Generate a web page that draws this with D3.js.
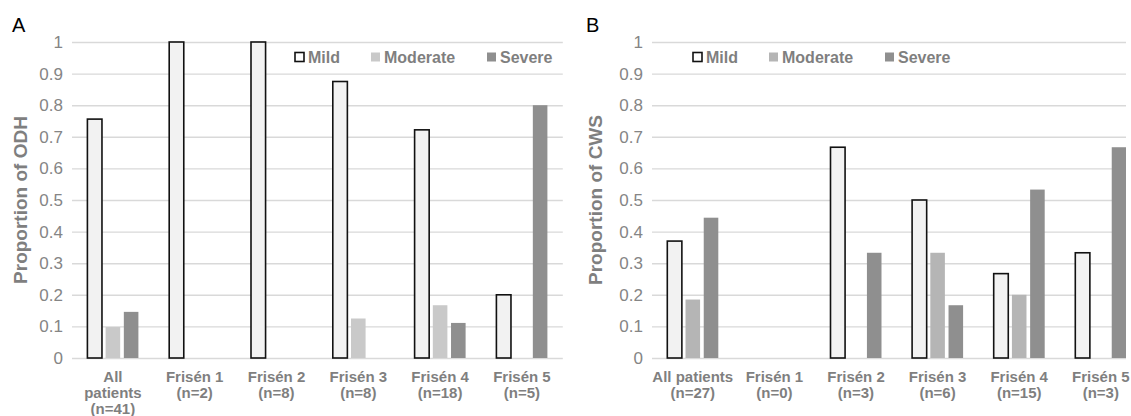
<!DOCTYPE html>
<html>
<head>
<meta charset="utf-8">
<script src="https://cdn.jsdelivr.net/npm/d3@7"></script>
<style>
  body { margin: 0; background: #fff; }
  svg { display: block; font-family: "Liberation Sans", Arial, sans-serif; }
</style>
</head>
<body>
<svg id="chart" width="1131" height="416"></svg>
<script>
// data
const series = ["Mild", "Moderate", "Severe"];
const yTicks = [0, 0.1, 0.2, 0.3, 0.4, 0.5, 0.6, 0.7, 0.8, 0.9, 1];

const odhCategories = ["All\npatients\n(n=41)", "Frisén 1\n(n=2)", "Frisén 2\n(n=8)", "Frisén 3\n(n=8)", "Frisén 4\n(n=18)", "Frisén 5\n(n=5)"];
const odhMild = [0.756, 1, 1, 0.875, 0.722, 0.2];
const odhModerate = [0.098, 0, 0, 0.125, 0.167, 0];
const odhSevere = [0.146, 0, 0, 0, 0.111, 0.8];

const cwsCategories = ["All patients\n(n=27)", "Frisén 1\n(n=0)", "Frisén 2\n(n=3)", "Frisén 3\n(n=6)", "Frisén 4\n(n=15)", "Frisén 5\n(n=3)"];
const cwsMild = [0.37, 0, 0.667, 0.5, 0.267, 0.333];
const cwsModerate = [0.185, 0, 0, 0.333, 0.2, 0];
const cwsSevere = [0.444, 0, 0.333, 0.167, 0.533, 0.667];

const svg = d3.select('#chart');
const textGrey = '#7f7f7f';

function drawPanel(p) {
    const g = svg.append('g');

    // clip so the right panel is cut like the original
    const clipId = 'clip-' + p.letter;
    svg.append('clipPath').attr('id', clipId)
        .append('rect')
        .attr('x', p.left - 10).attr('y', 0)
        .attr('width', p.clipRight - p.left + 10).attr('height', 416);

    const x0 = d3.scaleBand()
        .domain(p.categories)
        .range([p.left, p.left + p.step * p.categories.length]);

    const groupW = 51;
    const x1 = d3.scaleBand()
        .domain(series)
        .range([(p.step - groupW) / 2, (p.step + groupW) / 2])
        .paddingInner(0.2);

    const y = d3.scaleLinear().domain([0, 1]).range([358, 42]);

    // gridlines + tick labels
    const yAxis = d3.axisLeft(y)
        .tickValues(yTicks)
        .tickFormat(d3.format('~g'))
        .tickSize(-(Math.min(x0.range()[1], p.clipRight) - p.left))
        .tickPadding(9);

    const ax = g.append('g')
        .attr('transform', `translate(${p.left},0)`)
        .call(yAxis);
    ax.select('.domain').remove();
    ax.selectAll('.tick line')
        .attr('stroke', '#d9d9d9')
        .attr('stroke-width', 1.4);
    ax.selectAll('.tick text')
        .attr('fill', '#858585')
        .attr('font-size', 17);

    // bars
    const colors = { Mild: '#f2f2f2', Moderate: p.moderateColor, Severe: '#8f8f8f' };
    const rows = [];
    p.categories.forEach((c, i) => {
        series.forEach((s, j) => {
            const v = p.values[j][i];
            if (v > 0) rows.push({ cat: c, s: s, v: v });
        });
    });

    g.append('g')
        .attr('clip-path', `url(#${clipId})`)
        .selectAll('rect')
        .data(rows)
        .enter()
        .append('rect')
        .attr('x', d => x0(d.cat) + x1(d.s))
        .attr('y', d => y(d.v))
        .attr('width', x1.bandwidth())
        .attr('height', d => y(0) - y(d.v))
        .attr('fill', d => colors[d.s])
        .attr('stroke', d => d.s === 'Mild' ? '#111' : 'none')
        .attr('stroke-width', 1.6);

    // category labels
    const labels = g.append('g');
    p.categories.forEach(c => {
        const t = labels.append('text')
            .attr('x', x0(c) + x0.bandwidth() / 2)
            .attr('y', 382)
            .attr('text-anchor', 'middle')
            .attr('font-size', 15)
            .attr('font-weight', 'bold')
            .attr('fill', textGrey);
        c.split('\n').forEach((line, k) => {
            t.append('tspan')
                .attr('x', x0(c) + x0.bandwidth() / 2)
                .attr('dy', k === 0 ? 0 : 16.2)
                .text(line);
        });
    });

    // y title
    g.append('text')
        .attr('transform', `translate(${p.titleX},200) rotate(-90)`)
        .attr('text-anchor', 'middle')
        .attr('dy', '0.35em')
        .attr('font-size', 19)
        .attr('font-weight', 'bold')
        .attr('fill', textGrey)
        .text(p.title);

    // panel letter
    g.append('text')
        .attr('x', p.letterX)
        .attr('y', 32)
        .attr('font-size', 20)
        .attr('fill', '#000')
        .text(p.letter);

    // legend
    const legendOffsets = [0, 76, 192];
    const lg = g.append('g');
    series.forEach((s, j) => {
        const lx = p.legendX + legendOffsets[j];
        lg.append('rect')
            .attr('x', lx).attr('y', 52.5)
            .attr('width', 9).attr('height', 9)
            .attr('fill', s === 'Mild' ? '#fff' : (s === 'Moderate' ? p.moderateColor : '#8f8f8f'))
            .attr('stroke', s === 'Mild' ? '#111' : 'none')
            .attr('stroke-width', 1.6);
        lg.append('text')
            .attr('x', lx + 13)
            .attr('y', 57)
            .attr('dy', '0.35em')
            .attr('font-size', 16)
            .attr('font-weight', 'bold')
            .attr('fill', textGrey)
            .text(s);
    });
}

drawPanel({
    letter: 'A', letterX: 12,
    title: 'Proportion of ODH', titleX: 20,
    left: 72, step: 81.8, clipRight: 1131,
    categories: odhCategories,
    values: [odhMild, odhModerate, odhSevere],
    moderateColor: '#c9c9c9',
    legendX: 295
});

drawPanel({
    letter: 'B', letterX: 586,
    title: 'Proportion of CWS', titleX: 595,
    left: 652, step: 81.6, clipRight: 1126,
    categories: cwsCategories,
    values: [cwsMild, cwsModerate, cwsSevere],
    moderateColor: '#b5b5b5',
    legendX: 693
});
</script>
</body>
</html>
